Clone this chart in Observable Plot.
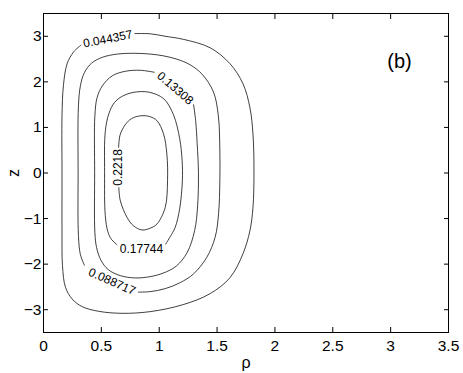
<!DOCTYPE html>
<html><head><meta charset="utf-8">
<script src="https://cdn.jsdelivr.net/npm/d3@7"></script>
<script src="https://cdn.jsdelivr.net/npm/@observablehq/plot@0.6"></script>
<style>body{margin:0;background:#fff}</style>
</head><body><div id="chart"></div>
<script>
// Contour levels (as labelled)
const levels = ["0.044357", "0.088717", "0.13308", "0.17744", "0.2218"];

// Contour paths (ρ, z), each open where its label sits
const c1Rho = [0.789,0.922,1.052,1.207,1.44,1.612,1.724,1.784,1.81,1.819,1.81,1.784,1.724,1.612,1.44,1.207,0.922,0.678,0.477,0.334,0.247,0.19,0.164,0.16,0.16,0.16,0.172,0.204,0.261,0.323];
const c1Z   = [3.059,3.055,3.0,2.934,2.748,2.397,1.958,1.432,0.862,0.0,-0.761,-1.265,-1.77,-2.296,-2.647,-2.888,-3.042,-3.079,-3.035,-2.932,-2.763,-2.509,-2.033,-1.265,0.0,1.257,1.915,2.397,2.66,2.803];

const c2Rho = [0.819,0.922,1.052,1.181,1.296,1.411,1.483,1.513,1.524,1.524,1.511,1.468,1.371,1.267,1.155,1.034,0.922,0.776,0.638,0.509,0.414,0.353,0.319,0.302,0.299,0.302,0.319,0.353];
const c2Z   = [-2.614,-2.603,-2.537,-2.406,-2.215,-1.851,-1.412,-0.893,-0.169,0.489,1.257,1.783,2.167,2.375,2.496,2.572,2.61,2.627,2.61,2.539,2.408,2.2,1.915,1.476,0.007,-1.375,-1.792,-2.022];

const c3Rho = [1.297,1.315,1.328,1.339,1.332,1.306,1.241,1.147,1.034,0.922,0.793,0.664,0.56,0.496,0.459,0.444,0.442,0.444,0.463,0.509,0.595,0.707,0.836,0.957];
const c3Z   = [1.498,1.147,0.643,0.007,-0.717,-1.265,-1.748,-2.044,-2.197,-2.274,-2.303,-2.252,-2.121,-1.912,-1.638,-1.309,0.007,1.257,1.651,1.914,2.134,2.232,2.254,2.211];

const c4Rho = [1.056,1.095,1.138,1.177,1.2,1.198,1.177,1.123,1.039,0.914,0.784,0.681,0.612,0.565,0.534,0.528,0.534,0.556,0.586,0.634];
const c4Z   = [-1.561,-1.397,-1.193,-0.783,-0.169,0.27,0.752,1.279,1.629,1.772,1.772,1.684,1.542,1.303,0.91,0.007,-0.936,-1.287,-1.452,-1.572];

const c5Rho = [0.651,0.664,0.722,0.776,0.851,0.922,0.981,1.052,1.072,1.066,1.037,0.981,0.922,0.851,0.776,0.722,0.664,0.649];
const c5Z   = [-0.322,-0.61,-0.974,-1.156,-1.25,-1.211,-1.118,-0.754,-0.169,0.417,0.862,1.147,1.235,1.257,1.213,1.11,0.855,0.561];

// Label anchors on the contours
const labelRho = [0.556, 0.592, 1.138, 0.847, 0.649];
const labelZ   = [2.939, -2.384, 1.86, -1.682, 0.123];
const labelAngle = [-11, 24, 41, 0, -90];

const xTicks = [0, 0.5, 1, 1.5, 2, 2.5, 3, 3.5];
const yTicks = [-3, -2, -1, 0, 1, 2, 3];

const contours = [[c1Rho,c1Z],[c2Rho,c2Z],[c3Rho,c3Z],[c4Rho,c4Z],[c5Rho,c5Z]];
const rows = contours.flatMap(([r, z], i) => r.map((v, j) => ({level: levels[i], rho: v, z: z[j]})));
const labels = levels.map((t, i) => ({text: t, rho: labelRho[i], z: labelZ[i], angle: labelAngle[i]}));

const fmt = d => d < 0 ? "\u2212" + Math.abs(d) : String(d);
const font = "'Liberation Sans', Arial, Helvetica, sans-serif";

const chart = Plot.plot({
  width: 463, height: 373,
  marginLeft: 43, marginRight: 15, marginTop: 13, marginBottom: 41,
  style: {fontFamily: font, background: "white", color: "black"},
  x: {domain: [0, 3.5]},
  y: {domain: [-3.5, 3.5]},
  marks: [
    Plot.line(rows, {x: "rho", y: "z", z: "level", curve: "catmull-rom", stroke: "black", strokeWidth: 0.75}),
    Plot.text(labels, {x: "rho", y: "z", text: "text", rotate: "angle", fontSize: 12, fill: "black", textAnchor: "middle", lineAnchor: "middle"}),
    Plot.frame({stroke: "black", strokeWidth: 1}),
    // tick labels
    Plot.axisX(xTicks, {anchor: "bottom", tickSize: 0, tickPadding: 7, fontSize: 15.5, tickFormat: fmt, label: null}),
    Plot.axisY(yTicks, {anchor: "left", tickSize: 0, tickPadding: 2, fontSize: 15.5, tickFormat: fmt, label: null}),
    // inward ticks on all four sides
    Plot.axisX(xTicks, {anchor: "bottom", tickSize: 5, dy: -5, tickFormat: () => "", label: null}),
    Plot.axisX(xTicks, {anchor: "top", tickSize: 5, dy: 5, tickFormat: () => "", label: null}),
    Plot.axisY(yTicks, {anchor: "left", tickSize: 5, dx: 5, tickFormat: () => "", label: null}),
    Plot.axisY(yTicks, {anchor: "right", tickSize: 5, dx: -5, tickFormat: () => "", label: null}),
    // axis titles and panel tag
    Plot.text(["ρ"], {text: d => d, frameAnchor: "bottom", dy: 30, fontSize: 16, textAnchor: "middle", lineAnchor: "middle"}),
    Plot.text(["z"], {text: d => d, frameAnchor: "left", dx: -30, rotate: -90, fontSize: 16, textAnchor: "middle", lineAnchor: "middle"}),
    Plot.text(["(b)"], {text: d => d, frameAnchor: "top-right", dx: -49, dy: 48, fontSize: 20, textAnchor: "middle", lineAnchor: "middle"})
  ]
});
document.getElementById("chart").appendChild(chart);
</script>
</body></html>
